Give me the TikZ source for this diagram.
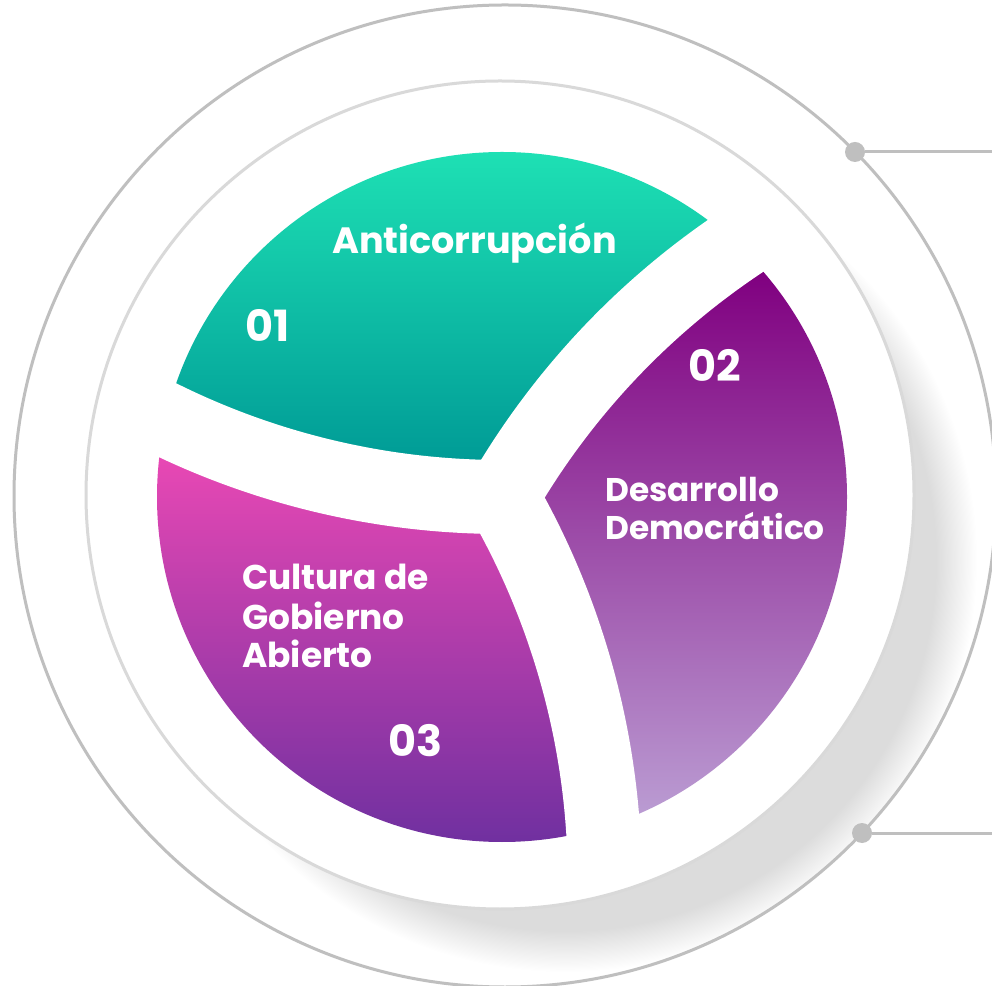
\documentclass[tikz,border=0pt]{standalone}
\usepackage{fontspec}
\setmainfont{Poppins}
\usetikzlibrary{calc}
\definecolor{ringgray}{HTML}{BFBFBF}
\definecolor{innergray}{HTML}{D9D9D9}
\definecolor{shgray}{HTML}{DCDCDC}
\definecolor{tealtop}{HTML}{1EE0B4}
\definecolor{tealbot}{HTML}{009B96}
\definecolor{purtop}{HTML}{800080}
\definecolor{purbot}{HTML}{BA9BD2}
\definecolor{magtop}{HTML}{E848B4}
\definecolor{magbot}{HTML}{7030A0}
\pgfdeclareradialshading{shadowfade}{\pgfpoint{0bp}{0bp}}{color(0bp)=(shgray); color(22.5bp)=(shgray); color(25bp)=(white); color(50bp)=(white)}
\begin{document}
\begin{tikzpicture}[x=1pt,y=1pt,
  lbl/.style={text=white, inner sep=0pt, anchor=base west},
  titlefont/.style={font=\fontsize{#1}{#1}\selectfont\bfseries},
  dotnode/.style={circle, fill=ringgray, minimum size=20pt, inner sep=0pt},
  ringline/.style={draw=ringgray, line width=3pt},
  gapband/.style={draw=white, line width=74pt}]
\useasboundingbox (0,0) rectangle (992,985);
\fill[white] (0,0) rectangle (992,985);
\coordinate (O) at (502,488);
\coordinate (RC) at (505,489);
\coordinate (IC) at (500,490);
\coordinate (SC) at (565,425);
% shadow of inner disk, clipped by the outer ring
\begin{scope}
  \clip (RC) circle (490);
  \shade[shading=shadowfade] (SC) circle (412);
\end{scope}
\draw[ringline] (RC) circle (491);
\filldraw[fill=white, draw=innergray, line width=3pt] (IC) circle (414);
% gap end points
\path (O) arc[start angle=150, end angle=118, radius=767] coordinate (Aend);
\path (O) arc[start angle=270, end angle=238, radius=767] coordinate (Bend);
\path (O) arc[start angle=30, end angle=-2, radius=767] coordinate (Cend);
% segment 01 (teal)
\begin{scope}
  \clip (O) circle (345);
  \clip (O) arc[start angle=150, end angle=118, radius=767] -- ($(O)+(104:900)$) -- (Bend) arc[start angle=238, end angle=270, radius=767] -- cycle;
  \shade[top color=tealtop, bottom color=tealbot] (120,523) rectangle (880,833);
\end{scope}
% segment 02 (purple)
\begin{scope}
  \clip (O) circle (345);
  \clip (O) arc[start angle=30, end angle=-2, radius=767] -- ($(O)+(344:900)$) -- (Aend) arc[start angle=118, end angle=150, radius=767] -- cycle;
  \shade[top color=purtop, bottom color=purbot] (120,172) rectangle (880,713);
\end{scope}
% segment 03 (magenta)
\begin{scope}
  \clip (O) circle (345);
  \clip (O) arc[start angle=270, end angle=238, radius=767] -- ($(O)+(224:900)$) -- (Cend) arc[start angle=-2, end angle=30, radius=767] -- cycle;
  \shade[top color=magtop, bottom color=magbot] (120,143) rectangle (880,528);
\end{scope}
% white gaps
\draw[gapband] (O) arc[start angle=150, end angle=121, radius=767];
\draw[gapband] (O) arc[start angle=270, end angle=241, radius=767];
\draw[gapband] (O) arc[start angle=30, end angle=1, radius=767];
% texts
\node[lbl, titlefont=36.6] (t1) at (332,731) {Anticorrupción};
\node[lbl, titlefont=43] (n1) at (245,643) {01};
\node[lbl, titlefont=43] (n2) at (688,603) {02};
\node[lbl, titlefont=43] (n3) at (388,229) {03};
\node[lbl, titlefont=32.8] (t2a) at (605,483) {Desarrollo};
\node[lbl, titlefont=32.8] (t2b) at (605,445) {Democrático};
\node[lbl, titlefont=34.4] (t3a) at (242,395) {Cultura de};
\node[lbl, titlefont=34.4] (t3b) at (242,355) {Gobierno};
\node[lbl, titlefont=34.4] (t3c) at (242,317) {Abierto};
% connectors
\coordinate (e1) at (992,833);
\coordinate (e2) at (992,152);
\node[dotnode] (d1) at (855,833) {};
\node[dotnode] (d2) at (862,152) {};
\draw[ringline] (d1) -- (e1);
\draw[ringline] (d2) -- (e2);
\end{tikzpicture}
\end{document}
